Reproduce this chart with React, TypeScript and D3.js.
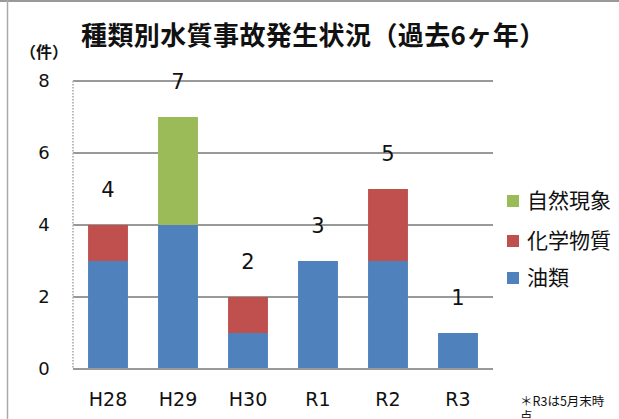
import React from "react";
import * as d3 from "d3";

const years = ["H28", "H29", "H30", "R1", "R2", "R3"];
const oil = [3, 4, 1, 3, 3, 1];
const chemical = [1, 0, 1, 0, 2, 0];
const natural = [0, 3, 0, 0, 0, 0];
const totals = [4, 7, 2, 3, 5, 1];
const yTicks = [0, 2, 4, 6, 8];
const seriesNames = ["油類", "化学物質", "自然現象"];
const seriesColors = ["#4F81BD", "#C0504D", "#9BBB59"];

const CJK = "'Noto Sans CJK JP', 'Noto Sans', sans-serif";
const LATIN = "'DejaVu Sans', 'Noto Sans', sans-serif";

export default function App() {
  const x = d3.scaleBand().domain(years).range([73, 493]).paddingInner(0.43).paddingOuter(0.215);
  const y = d3.scaleLinear().domain([0, 8]).range([369, 81]);

  const rows = years.map((yr, i) => ({ year: yr, oil: oil[i], chemical: chemical[i], natural: natural[i] }));
  const stack = d3.stack<any>().keys(["oil", "chemical", "natural"])(rows);

  return (
    <svg width={619} height={419} style={{ position: "absolute", left: 0, top: 0, background: "#fff" }} fontFamily={CJK}>
      <line x1={0} x2={619} y1={1} y2={1} stroke="#999" strokeWidth={2} />
      <line x1={7.5} x2={7.5} y1={0} y2={419} stroke="#aaa" strokeWidth={1.5} />

      <text x={81} y={45} fontSize={26} fontWeight="bold" letterSpacing={0.4} fill="#111">種類別水質事故発生状況（過去6ヶ年）</text>
      <text x={20} y={58} fontSize={16} fontWeight="bold" fill="#111">（件）</text>

      {yTicks.map((t) =>
        t > 0 ? <line key={"g" + t} x1={73} x2={493} y1={y(t)} y2={y(t)} stroke="#999" strokeWidth={2} /> : null
      )}
      <line x1={73} x2={73} y1={y(8)} y2={y(0)} stroke="#bbb" strokeWidth={2} strokeDasharray="1.5 1.5" />

      {stack.map((s, si) =>
        s.map((d, i) =>
          d[1] - d[0] > 0 ? (
            <rect key={si + "-" + i} x={x(years[i])} width={x.bandwidth()} y={y(d[1])} height={y(d[0]) - y(d[1])} fill={seriesColors[si]} />
          ) : null
        )
      )}

      <line x1={73} x2={493} y1={y(0)} y2={y(0)} stroke="#999" strokeWidth={2} />

      {yTicks.map((t) => (
        <text key={"t" + t} x={44} y={y(t)} dy="0.35em" textAnchor="middle" fontSize={18} fontFamily={LATIN} fill="#111">{t}</text>
      ))}
      {years.map((yr) => (
        <text key={"x" + yr} x={x(yr)! + x.bandwidth() / 2} y={399} dy="0.35em" textAnchor="middle" fontSize={19} fontFamily={LATIN} fill="#111">{yr}</text>
      ))}
      {years.map((yr, i) => (
        <text key={"v" + yr} x={x(yr)! + x.bandwidth() / 2} y={y(totals[i]) - 35} dy="0.35em" textAnchor="middle" fontSize={21} fontFamily={LATIN} fill="#111">{totals[i]}</text>
      ))}

      {seriesNames.map((n, i) => {
        const ly = [278, 241, 201][i];
        return (
          <g key={n}>
            <rect x={507} y={ly - 6} width={12} height={12} fill={seriesColors[i]} />
            <text x={527} y={ly} dy="0.35em" fontSize={21} fill="#111">{n}</text>
          </g>
        );
      })}

      <text x={520} y={406} fontSize={12.5} fill="#111">＊R3は5月末時</text>
      <text x={520} y={421} fontSize={12.5} fill="#111">点</text>
    </svg>
  );
}
